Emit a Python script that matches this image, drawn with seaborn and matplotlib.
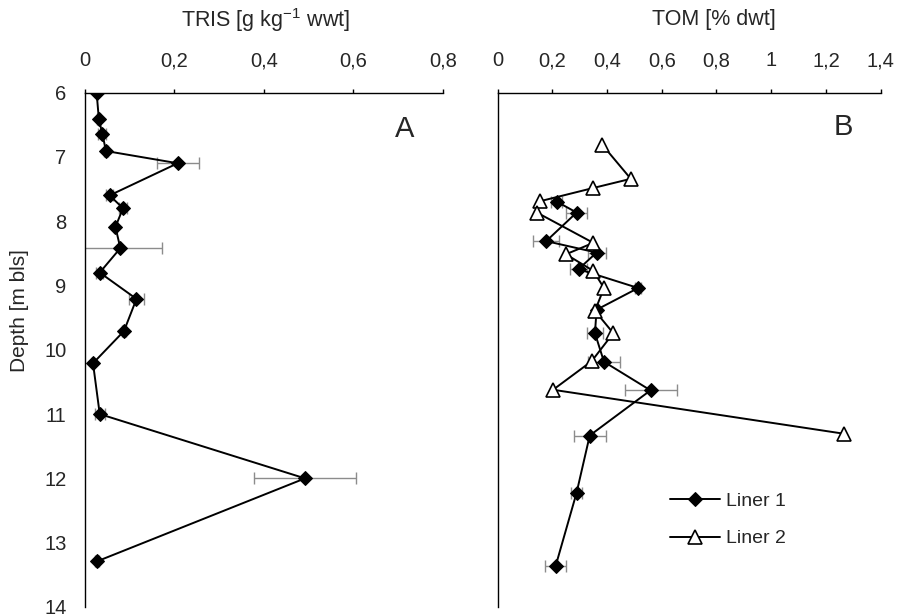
import matplotlib
matplotlib.use("Agg")
import matplotlib.pyplot as plt
import seaborn as sns
import numpy as np
import pandas as pd

# ---------------- data ----------------
# Panel A: TRIS (Liner 1)
depth_a = [6.0, 6.41, 6.65, 6.91, 7.10, 7.60, 7.80, 8.09, 8.42, 8.80, 9.21, 9.71, 10.21, 11.0, 12.0, 13.29]
tris = [0.027, 0.032, 0.040, 0.048, 0.208, 0.056, 0.086, 0.069, 0.080, 0.034, 0.116, 0.088, 0.019, 0.034, 0.492, 0.028]
tris_err = [0.0, 0.003, 0.009, 0.004, 0.047, 0.007, 0.008, 0.004, 0.093, 0.008, 0.016, 0.004, 0.003, 0.011, 0.113, 0.004]

# Panel B: TOM
depth_b1 = [6.91, 7.10, 7.60, 7.80, 8.09, 8.42, 8.80, 9.21, 9.71, 10.21, 11.0, 12.0, 13.29]
tom_l1 = [0.217, 0.289, 0.178, 0.362, 0.296, 0.514, 0.362, 0.356, 0.389, 0.559, 0.337, 0.289, 0.212]
tom_l1_err = [0.02, 0.039, 0.047, 0.033, 0.032, 0.01, 0.01, 0.029, 0.058, 0.095, 0.058, 0.02, 0.04]

depth_b2 = [5.91, 6.51, 6.67, 6.90, 7.10, 7.63, 7.83, 8.12, 8.42, 8.82, 9.21, 9.70, 10.20, 10.97]
tom_l2 = [0.382, 0.487, 0.350, 0.157, 0.144, 0.350, 0.250, 0.350, 0.389, 0.356, 0.423, 0.344, 0.203, 1.267]

xt_a = [0, 0.2, 0.4, 0.6, 0.8]
xl_a = ["0", "0,2", "0,4", "0,6", "0,8"]
xt_b = [0, 0.2, 0.4, 0.6, 0.8, 1.0, 1.2, 1.4]
xl_b = ["0", "0,2", "0,4", "0,6", "0,8", "1", "1,2", "1,4"]
yt_a = list(range(6, 15))
yt_b = list(range(5, 15))

# ---------------- style ----------------
sns.set_style("white")
plt.rcParams["font.family"] = ["Liberation Sans", "DejaVu Sans"]
plt.rcParams["mathtext.fontset"] = "custom"
plt.rcParams["mathtext.rm"] = "Liberation Sans"
plt.rcParams["mathtext.it"] = "Liberation Sans"
FS_TICK = 14.5
FS_TITLE = 15.5
FS_YLAB = 15
FS_LEG = 14

W, H = 898, 615
fig = plt.figure(figsize=(W / 100, H / 100), dpi=100)
fig.patch.set_facecolor("white")

def px_axes(l, r, t, b):
    return fig.add_axes([l / W, 1 - b / H, (r - l) / W, (b - t) / H])

axA = px_axes(84.5, 443, 92.5, 607)
axB = px_axes(497.5, 880.7, 92.5, 607)

err_kw = dict(fmt="none", ecolor="#8c8c8c", elinewidth=1.0, capsize=4, capthick=1.0, zorder=1)

# Panel A
axA.errorbar(tris, depth_a, xerr=tris_err, **err_kw)
sns.lineplot(x=tris, y=depth_a, sort=False, estimator=None, ax=axA, color="black",
             linewidth=1.4, marker="D", markersize=7.3, markerfacecolor="black",
             markeredgecolor="black", zorder=3)

# Panel B
axB.errorbar(tom_l1, depth_b1, xerr=tom_l1_err, **err_kw)
sns.lineplot(x=tom_l1, y=depth_b1, sort=False, estimator=None, ax=axB, color="black",
             linewidth=1.4, marker="D", markersize=7.3, markerfacecolor="black",
             markeredgecolor="black", zorder=3, label="Liner 1")
sns.lineplot(x=tom_l2, y=depth_b2, sort=False, estimator=None, ax=axB, color="black",
             linewidth=1.4, marker="^", markersize=10, markerfacecolor="white",
             markeredgecolor="black", markeredgewidth=1.2, zorder=4, label="Liner 2")

for ax, xt, xl, yt, ylim in [(axA, xt_a, xl_a, yt_a, (14, 6)), (axB, xt_b, xl_b, yt_b, (14, 5))]:
    ax.set_xlim(0, xt[-1])
    ax.set_ylim(*ylim)
    ax.xaxis.tick_top()
    ax.set_xticks(xt)
    ax.set_xticklabels(xl, fontsize=FS_TICK)
    ax.set_yticks(yt)
    ax.set_xlabel("")
    ax.set_ylabel("")
    ax.tick_params(axis="x", direction="out", length=3, width=1, color="black", pad=13)
    ax.tick_params(axis="y", direction="out", length=3, width=1, color="black", pad=10, labelsize=FS_TICK)
    for s in ["right", "bottom"]:
        ax.spines[s].set_visible(False)
    for s in ["left", "top"]:
        ax.spines[s].set_color("black")
        ax.spines[s].set_linewidth(1.0)
    ax.set_facecolor("white")

axA.set_yticklabels([str(v) for v in yt_a], fontsize=FS_TICK)
axB.set_yticklabels([""] * len(yt_b))

leg = axB.legend(loc="center left", bbox_to_anchor=(670 / W, 1 - 520 / H),
                 bbox_transform=fig.transFigure, frameon=False, fontsize=FS_LEG,
                 handlelength=2.55, handletextpad=0.35, labelspacing=1.0,
                 borderpad=0, borderaxespad=0)

fig.text(266 / W, 1 - 20 / H, "TRIS [g kg$^{-1}$ wwt]", ha="center", va="center", fontsize=FS_TITLE)
fig.text(714 / W, 1 - 20 / H, "TOM [% dwt]", ha="center", va="center", fontsize=FS_TITLE)
fig.text(20 / W, 1 - 311 / H, "Depth [m bls]", ha="center", va="center", rotation=90, fontsize=FS_YLAB)
fig.text(405 / W, 1 - 129 / H, "A", ha="center", va="center", fontsize=21)
fig.text(843 / W, 1 - 127 / H, "B", ha="center", va="center", fontsize=21)

fig.savefig("out.png", dpi=100, facecolor="white")
